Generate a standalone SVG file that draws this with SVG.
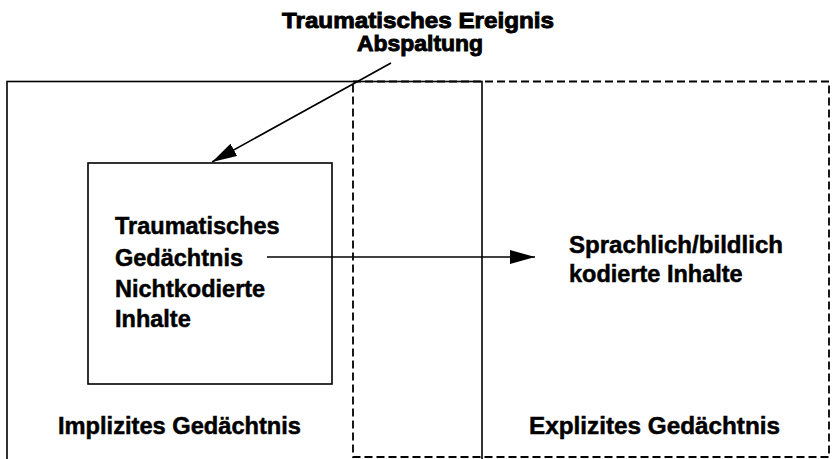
<svg xmlns="http://www.w3.org/2000/svg" width="834" height="459" viewBox="0 0 834 459">
<style>
  .t{font-family:"Liberation Sans",Arial,sans-serif;font-weight:bold;fill:#000;stroke:#000;stroke-width:0.5}
  .b{font-size:23.5px}
  .h{font-size:22px;stroke-width:0.9}
  .solid{fill:none;stroke:#000;stroke-width:1.6}
  .dash{fill:none;stroke:#000;stroke-width:1.8;stroke-dasharray:8 4}
  .conn{fill:none;stroke:#000;stroke-width:1.6}
</style>
<defs>
  <marker id="ah" markerUnits="userSpaceOnUse" markerWidth="26" markerHeight="15" refX="25" refY="7" orient="auto">
    <path d="M0,0 L25,7 L0,14 Z" fill="#000"/>
  </marker>
</defs>
<rect width="834" height="459" fill="#fff"/>
<g id="title">
  <text class="t h" x="282" y="28" textLength="272" lengthAdjust="spacingAndGlyphs">Traumatisches Ereignis</text>
  <text class="t h" x="357" y="51" textLength="126" lengthAdjust="spacingAndGlyphs">Abspaltung</text>
</g>
<g id="implizit">
  <rect class="solid" x="7" y="81.5" width="475" height="390"/>
  <text class="t b" x="58" y="434" textLength="243" lengthAdjust="spacingAndGlyphs">Implizites Gedächtnis</text>
</g>
<g id="explizit">
  <rect class="dash" x="353" y="81.5" width="476" height="375.5"/>
  <text class="t b" x="529" y="434" textLength="251" lengthAdjust="spacingAndGlyphs">Explizites Gedächtnis</text>
</g>
<g id="trauma">
  <rect class="solid" x="88" y="163" width="244" height="221"/>
  <text class="t b" x="115" y="234">Traumatisches</text>
  <text class="t b" x="115" y="266">Gedächtnis</text>
  <text class="t b" x="115" y="297">Nichtkodierte</text>
  <text class="t b" x="115" y="327">Inhalte</text>
</g>
<g id="kodiert">
  <text class="t b" x="569" y="253" textLength="214" lengthAdjust="spacingAndGlyphs">Sprachlich/bildlich</text>
  <text class="t b" x="569" y="282">kodierte Inhalte</text>
</g>
<g id="connectors">
  <line class="conn" x1="391" y1="63" x2="212" y2="162" marker-end="url(#ah)"/>
  <line class="conn" x1="267" y1="257" x2="535" y2="257" marker-end="url(#ah)"/>
</g>
</svg>
